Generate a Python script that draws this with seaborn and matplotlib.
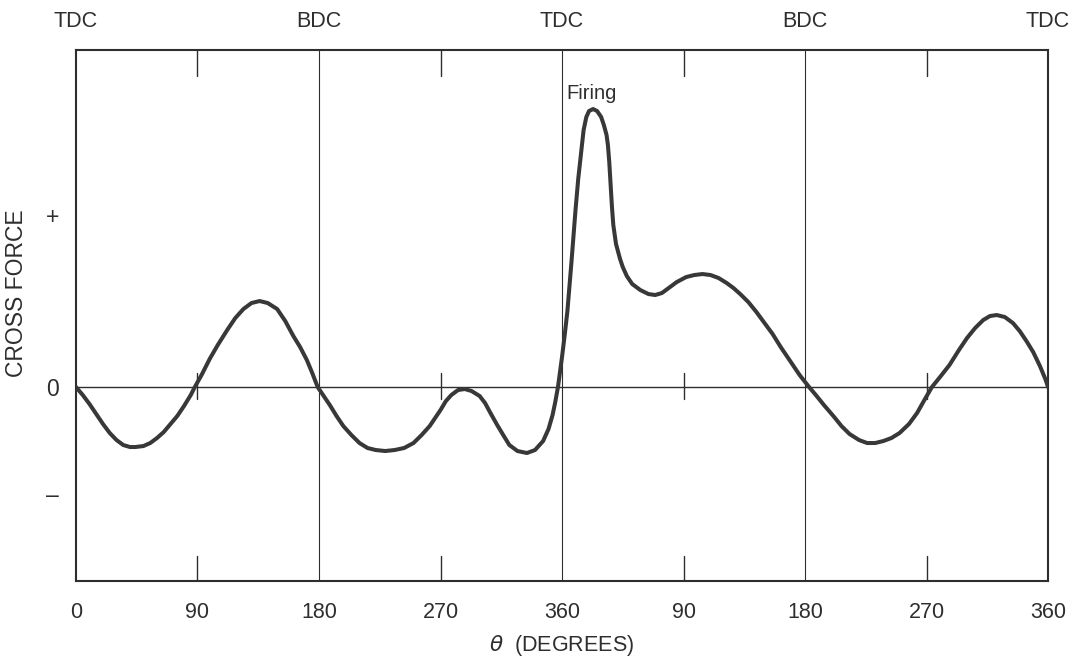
import numpy as np
import pandas as pd
import matplotlib
matplotlib.use("Agg")
import matplotlib.pyplot as plt
import seaborn as sns

# Crank angle over two revolutions (degrees) and the measured cross force
crank_deg = [0, 5, 10, 15, 20, 25, 30, 35, 40, 44, 50, 55, 60, 65, 70, 75, 80, 85,
             88, 93, 99, 105, 112, 118, 124, 130, 136, 142, 149, 155, 161, 166, 171,
             175, 179,
             184, 188, 193, 198, 204, 210, 216, 222, 229, 236, 243, 250, 256, 262,
             266, 270, 274, 278, 283, 288, 293, 299, 303, 307, 312, 316, 321, 327,
             334, 340, 346, 350, 353, 355, 357,
             360, 362, 364, 367, 370, 372, 374, 376, 378, 380, 383, 386, 389, 391,
             393, 394, 395, 396, 397, 398, 400, 403, 405, 408, 412, 418, 424, 429,
             434, 439, 445, 452, 458, 464, 470, 476, 482, 487, 492, 498, 504, 510,
             516, 522, 529, 536, 543,
             548, 554, 561, 567, 573, 580, 586, 592, 598, 604, 610, 617, 623, 628,
             634, 640, 647, 654, 660, 666, 672, 677, 682, 688, 694, 699, 704, 709,
             714, 718, 720]
cross_force = [0.0, -0.08, -0.17, -0.27, -0.37, -0.46, -0.53, -0.58, -0.60, -0.60,
               -0.59, -0.56, -0.51, -0.45, -0.37, -0.29, -0.19, -0.08,
               0.0, 0.12, 0.28, 0.42, 0.57, 0.69, 0.78, 0.84, 0.86, 0.84, 0.78, 0.66,
               0.51, 0.40, 0.27, 0.14, 0.0,
               -0.10, -0.18, -0.29, -0.39, -0.48, -0.56, -0.61, -0.63, -0.64, -0.63,
               -0.61, -0.56, -0.48, -0.39, -0.31, -0.23, -0.14, -0.08, -0.03, -0.02,
               -0.04, -0.09, -0.16, -0.26, -0.38, -0.47, -0.58, -0.64, -0.66, -0.63,
               -0.54, -0.42, -0.28, -0.15, 0.0,
               0.30, 0.52, 0.76, 1.25, 1.77, 2.08, 2.33, 2.57, 2.70, 2.76, 2.78, 2.76,
               2.70, 2.62, 2.52, 2.42, 2.25, 2.02, 1.80, 1.62, 1.43, 1.28, 1.20, 1.11,
               1.03, 0.97, 0.93, 0.92, 0.94, 0.99, 1.05, 1.10, 1.12, 1.13, 1.12, 1.09,
               1.04, 0.99, 0.93, 0.85, 0.75, 0.64, 0.53, 0.40, 0.26, 0.12, 0.0,
               -0.08, -0.18, -0.29, -0.39, -0.47, -0.53, -0.56, -0.56, -0.54, -0.51,
               -0.46, -0.37, -0.26, -0.14, 0.0, 0.10, 0.22, 0.37, 0.49, 0.59, 0.67,
               0.71, 0.72, 0.70, 0.64, 0.56, 0.46, 0.35, 0.21, 0.08, 0.0]

tick_pos = [0, 90, 180, 270, 360, 450, 540, 630, 720]
tick_labels = ["0", "90", "180", "270", "360", "90", "180", "270", "360"]
dead_centre_pos = [0, 180, 360, 540, 720]
dead_centre_labels = ["TDC", "BDC", "TDC", "BDC", "TDC"]
quarter_pos = [90, 270, 450, 630]
force_ticks = [1.72, 0.0, -1.06]
force_labels = ["+", "0", "\u2013"]

df = pd.DataFrame({"theta": crank_deg, "force": cross_force})

sns.set_theme(style="white")
plt.rcParams["font.family"] = ["Liberation Sans", "DejaVu Sans"]

ink = "#2e2e2e"
fs = 15.5
fig = plt.figure(figsize=(10.81, 6.61), dpi=100)
ax = fig.add_axes([0.0703, 0.121, 0.8992, 0.8033])

# reference lines: zero, dead-centre verticals, quarter-turn ticks
ax.axhline(0, color=ink, lw=1.0, zorder=1)
for x in dead_centre_pos[1:-1]:
    ax.axvline(x, color=ink, lw=0.8, zorder=1)
trans = ax.get_xaxis_transform()
for x in quarter_pos:
    ax.plot([x, x], [0.0, 0.048], color=ink, lw=1.0, transform=trans, zorder=1)
    ax.plot([x, x], [0.952, 1.0], color=ink, lw=1.0, transform=trans, zorder=1)
    ax.plot([x, x], [0.343, 0.392], color=ink, lw=1.0, transform=trans, zorder=1)

sns.lineplot(data=df, x="theta", y="force", ax=ax, color="#383838", lw=2.9,
             zorder=3, solid_joinstyle="round", solid_capstyle="round")

ax.set_xlim(0, 720)
ax.set_ylim(-1.94, 3.37)
ax.set_xticks(tick_pos)
ax.set_xticklabels(tick_labels, fontsize=fs, color=ink)
ax.set_yticks(force_ticks)
ax.set_yticklabels(force_labels, fontsize=fs + 1, color=ink)
ax.tick_params(axis="x", length=0, pad=15)
ax.tick_params(axis="y", length=0, pad=12)

for sp in ax.spines.values():
    sp.set_color(ink)
    sp.set_linewidth(1.5)

top = ax.secondary_xaxis("top")
top.set_xticks(dead_centre_pos)
top.set_xticklabels(dead_centre_labels, fontsize=fs, color=ink)
top.tick_params(length=0, pad=13)
top.spines["top"].set_visible(False)

ax.set_xlabel(r"$\theta$  (DEGREES)", fontsize=fs, color=ink)
ax.xaxis.set_label_coords(0.5, -0.098)
ax.set_ylabel("CROSS FORCE", fontsize=fs + 1, color=ink)
ax.yaxis.set_label_coords(-0.049, (581 - 293) / 531)

ax.text(363, 2.94, "Firing", fontsize=fs - 1, color=ink, ha="left", va="center")

fig.savefig("out.png", dpi=100, facecolor="white")
